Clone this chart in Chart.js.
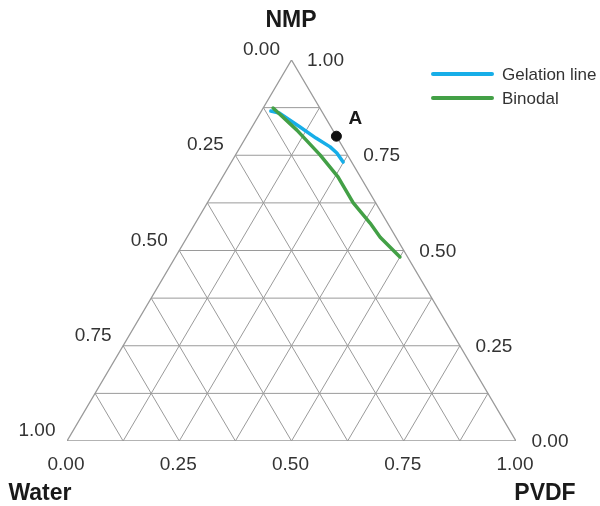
<!DOCTYPE html>
<html>
<head>
<meta charset="utf-8">
<script src="https://cdn.jsdelivr.net/npm/chart.js@4"></script>
<style>
  body { margin: 0; background: #fff; }
  canvas { display: block; }
</style>
</head>
<body>
<canvas id="chart" width="600" height="506"></canvas>
<script>
// compositions as fractions (water = 1 - nmp - pvdf)
const gelationNMP = [0.866, 0.861, 0.824, 0.795, 0.772, 0.756, 0.732];
const gelationPVDF = [0.021, 0.042, 0.107, 0.157, 0.200, 0.223, 0.249];
const binodalNMP = [0.874, 0.816, 0.751, 0.693, 0.625, 0.572, 0.535, 0.483];
const binodalPVDF = [0.022, 0.104, 0.188, 0.257, 0.325, 0.389, 0.430, 0.500];
const pointA = { nmp: 0.80, pvdf: 0.20 };
const tickLabels = ['0.00', '0.25', '0.50', '0.75', '1.00'];
const gridDivisions = 8;

// ternary -> cartesian (water bottom-left, PVDF bottom-right, NMP top)
function toXY(nmp, pvdf) {
  return { x: pvdf + nmp / 2, y: nmp };
}

function lineSet(points, color, width, order) {
  return {
    data: points,
    showLine: true,
    borderColor: color,
    borderWidth: width,
    pointRadius: 0,
    tension: 0,
    fill: false,
    order: order,
  };
}

const datasets = [];
const gridColor = '#9a9a9a';

// grid lines parallel to each edge
for (let k = 1; k < gridDivisions; k++) {
  const f = k / gridDivisions;
  datasets.push(lineSet([toXY(f, 0), toXY(f, 1 - f)], gridColor, 1, 10)); // nmp const
  datasets.push(lineSet([toXY(0, f), toXY(1 - f, f)], gridColor, 1, 10)); // pvdf const
  datasets.push(lineSet([toXY(1 - f, 0), toXY(0, 1 - f)], gridColor, 1, 10)); // water const
}
// outline
datasets.push(lineSet([toXY(0, 0), toXY(0, 1), toXY(1, 0), toXY(0, 0)], gridColor, 1.3, 9));

const gelation = lineSet(gelationNMP.map((n, i) => toXY(n, gelationPVDF[i])), '#17aee8', 3.5, 2);
gelation.label = 'Gelation line';
gelation.borderCapStyle = 'round';
gelation.borderJoinStyle = 'round';
const binodal = lineSet(binodalNMP.map((n, i) => toXY(n, binodalPVDF[i])), '#43a046', 3.5, 1);
binodal.label = 'Binodal';
binodal.borderCapStyle = 'round';
binodal.borderJoinStyle = 'round';
datasets.push(gelation, binodal);

datasets.push({
  data: [toXY(pointA.nmp, pointA.pvdf)],
  pointRadius: 5,
  pointBackgroundColor: '#111',
  pointBorderColor: '#111',
  showLine: false,
  order: 0,
});

const textPlugin = {
  id: 'ternaryText',
  afterDraw(chart) {
    const ctx = chart.ctx;
    const sx = chart.scales.x, sy = chart.scales.y;
    const px = p => ({ x: sx.getPixelForValue(p.x), y: sy.getPixelForValue(p.y) });
    ctx.save();
    ctx.textAlign = 'center';
    ctx.textBaseline = 'middle';
    ctx.fillStyle = '#333';
    ctx.font = '19px "Liberation Sans", Arial, sans-serif';
    tickLabels.forEach((t, i) => {
      const v = i / 4;
      // left edge: water fraction
      let p = px(toXY(1 - v, 0));
      ctx.fillText(t, p.x - 30, p.y - 10);
      // right edge: NMP fraction
      p = px(toXY(v, 1 - v));
      ctx.fillText(t, p.x + 34, p.y + 1);
      // bottom edge: PVDF fraction
      p = px(toXY(0, v));
      ctx.fillText(t, p.x - 1, p.y + 24);
    });

    ctx.fillStyle = '#1a1a1a';
    ctx.font = 'bold 23px "Liberation Sans", Arial, sans-serif';
    ctx.fillText('NMP', 291, 21);
    ctx.fillText('Water', 40, 494);
    ctx.fillText('PVDF', 545, 494);
    ctx.font = 'bold 19px "Liberation Sans", Arial, sans-serif';
    const a = px(toXY(pointA.nmp, pointA.pvdf));
    ctx.fillText('A', a.x + 19, a.y - 17);

    // legend
    ctx.textAlign = 'left';
    ctx.font = '17px "Liberation Sans", Arial, sans-serif';
    ctx.fillStyle = '#333';
    [gelation, binodal].forEach((ds, i) => {
      const y = 74 + i * 24;
      ctx.strokeStyle = ds.borderColor;
      ctx.lineWidth = 4;
      ctx.lineCap = 'round';
      ctx.beginPath();
      ctx.moveTo(433, y);
      ctx.lineTo(492, y);
      ctx.stroke();
      ctx.fillText(ds.label, 502, y + 1);
    });
    ctx.restore();
  }
};

new Chart(document.getElementById('chart'), {
  type: 'scatter',
  data: { datasets },
  options: {
    responsive: false,
    animation: false,
    layout: { padding: { left: 67, right: 84, top: 60, bottom: 65 } },
    scales: {
      x: { type: 'linear', min: 0, max: 1, display: false },
      y: { type: 'linear', min: 0, max: 1, display: false },
    },
    plugins: {
      legend: { display: false },
      tooltip: { enabled: false },
    },
  },
  plugins: [textPlugin],
});
</script>
</body>
</html>
